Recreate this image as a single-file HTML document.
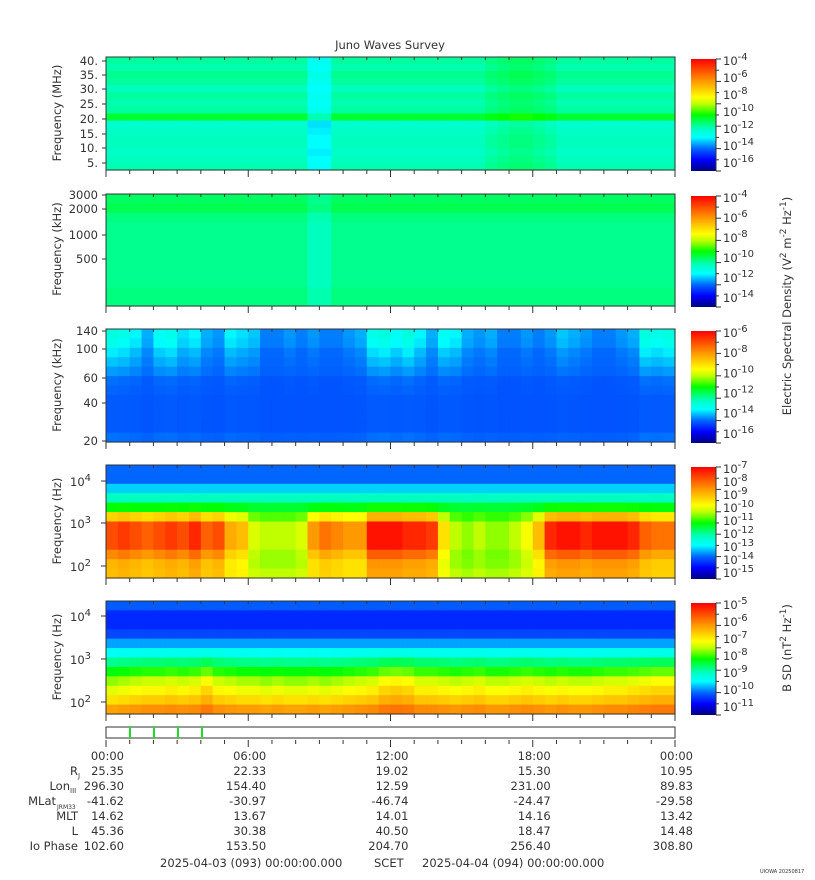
<!DOCTYPE html>
<html><head><meta charset="utf-8"><style>
html,body{margin:0;padding:0;background:#fff;width:815px;height:880px;overflow:hidden}
svg{display:block;font-family:"DejaVu Sans","Liberation Sans",sans-serif;fill:#333}
text{font-size:11.5px;fill:#333}
</style></head><body>
<svg id="c" width="815" height="880" viewBox="0 0 815 880">
<defs>
<linearGradient id="jet" x1="0" y1="1" x2="0" y2="0">
<stop offset="0" stop-color="#000080"/><stop offset="0.1" stop-color="#0000ff"/><stop offset="0.2" stop-color="#0066ff"/>
<stop offset="0.3" stop-color="#00ffff"/><stop offset="0.38" stop-color="#00ffbf"/><stop offset="0.5" stop-color="#00ff00"/>
<stop offset="0.6" stop-color="#c0ff00"/><stop offset="0.66" stop-color="#ffff00"/><stop offset="0.8" stop-color="#ff9900"/>
<stop offset="1" stop-color="#ff0000"/></linearGradient>
</defs>
<text x="390" y="49" text-anchor="middle">Juno Waves Survey</text>
<g id="cells"></g>
<g id="axes"></g>
</svg>
<script>
// ---- data ----
const hourLabels = ["00:00","06:00","12:00","18:00","00:00"];
const rjValues = ["25.35","22.33","19.02","15.30","10.95"];
const lonValues = ["296.30","154.40","12.59","231.00","89.83"];
const mlatValues = ["-41.62","-30.97","-46.74","-24.47","-29.58"];
const mltValues = ["14.62","13.67","14.01","14.16","13.42"];
const lValues = ["45.36","30.38","40.50","18.47","14.48"];
const ioValues = ["102.60","153.50","204.70","256.40","308.80"];
// per-panel row intensity (top to bottom, normalized colour-scale 0..1)
const p1Rows = [0.4,0.39,0.41,0.4,0.38,0.4,0.39,0.4,0.47,0.36,0.37,0.38,0.38,0.37,0.38,0.39];
const p1Cols = [0,0,0,0,0,0,0,0,0,0,0,0,0,0,0,0,0,-0.08,-0.08,0,0,0,0,0,0,0,0,0,0,0,0,0,0.02,0.03,0.04,0.04,0.03,0.02,0,0,0,0,0,0,0,0,0,0];
const p2Rows = [0.44,0.45,0.42,0.41,0.41,0.41,0.41,0.41,0.41,0.41,0.42,0.42];
const p2Cols = [0,0,0,0,0,0,0,0,0,0,0,0,0,0,0,0,0,-0.03,-0.03,0,0,0,0,0,0,0,0,0,0,0,0,0,0,0,0,0,0,0,0,0,0,0,0,0,0,0,0,0];
const p3Rows = [0.2,0.2,0.19,0.19,0.19,0.18,0.18,0.18,0.18,0.18,0.18,0.19];
const p3Weight = [0.16,0.14,0.11,0.08,0.05,0.03,0.02,0.01,0.01,0.01,0.01,0.02];
const p3Cols = [0.9,0.8,0.6,0.3,0.7,0.8,0.5,0.6,0.3,0.2,0.6,0.5,0.4,0.1,0.1,0.2,0.1,0.2,0.1,0.1,0.2,0.3,0.8,0.9,0.7,0.9,0.6,0.3,0.7,0.6,0.3,0.2,0.3,0.1,0.1,0.2,0.1,0.2,0.4,0.3,0.2,0.1,0.1,0.2,0.3,0.9,0.8,0.9];
const p4Rows = [0.2,0.2,0.27,0.38,0.46,0.48,0.5,0.5,0.5,0.5,0.52,0.55];
const p4Weight = [0,0,0,0,0.05,0.3,0.5,0.5,0.5,0.4,0.3,0.25];
const p4Cols = [0.8,0.85,0.8,0.75,0.8,0.85,0.8,0.9,0.75,0.8,0.55,0.5,0.25,0.2,0.2,0.2,0.25,0.6,0.7,0.65,0.6,0.6,0.95,0.95,0.95,0.9,0.9,0.85,0.4,0.2,0.15,0.2,0.15,0.15,0.2,0.3,0.5,0.9,0.95,0.95,0.9,0.95,0.95,0.95,0.9,0.75,0.7,0.7];
const p5Rows = [0.19,0.14,0.14,0.17,0.24,0.31,0.4,0.48,0.55,0.61,0.68,0.77];
const p5Weight = [0,0,0,0,0,0.02,0.05,0.08,0.12,0.12,0.1,0.08];
const p5Cols = [0.2,0.3,0.4,0.5,0.5,0.6,0.5,0.6,0.9,0.5,0.4,0.3,0.3,0.2,0.3,0.2,0.2,0.3,0.2,0.3,0.4,0.5,0.6,0.9,1,0.9,0.6,0.6,0.5,0.4,0.5,0.6,0.4,0.4,0.5,0.6,0.5,0.4,0.5,0.4,0.4,0.5,0.6,0.6,0.7,0.8,0.9,0.9];
const cb1 = ["-4","-6","-8","-10","-12","-14","-16"];
const cb2 = ["-4","-6","-8","-10","-12","-14"];
const cb3 = ["-6","-8","-10","-12","-14","-16"];
const cb4 = ["-7","-8","-9","-10","-11","-12","-13","-14","-15"];
const cb5 = ["-5","-6","-7","-8","-9","-10","-11"];
const y1Labels = ["40.","35.","30.","25.","20.","15.","10.","5."];
const y2Labels = ["3000","2000","1000","500"];
const y3Labels = ["140","100","60","40","20"];
const yExpLabels = ["4","3","2"];

const NS="http://www.w3.org/2000/svg";
const X0=106,X1=675,W=X1-X0,CB0=691,CBW=25;
const panels=[{y:57,h:113},{y:194,h:112},{y:329,h:113},{y:465,h:113},{y:601,h:113}];
const stops=[[0,0,0,128],[0.1,0,0,255],[0.2,0,102,255],[0.3,0,255,255],[0.38,0,255,191],[0.5,0,255,0],[0.6,192,255,0],[0.66,255,255,0],[0.8,255,153,0],[1,255,0,0]];
function cmap(t){t=Math.max(0,Math.min(1,t));for(let i=1;i<stops.length;i++){if(t<=stops[i][0]){const a=stops[i-1],b=stops[i],f=(t-a[0])/(b[0]-a[0]);return `rgb(${Math.round(a[1]+f*(b[1]-a[1]))},${Math.round(a[2]+f*(b[2]-a[2]))},${Math.round(a[3]+f*(b[3]-a[3]))})`;}}return "rgb(255,0,0)";}
function xScale(i,n){return X0+i*W/n;}
function el(tag,attrs,parent){const e=document.createElementNS(NS,tag);for(const k in attrs)e.setAttribute(k,attrs[k]);parent.appendChild(e);return e;}
const cells=document.getElementById('cells'),axes=document.getElementById('axes');
function heat(pi,rows,cols,weight){
  const p=panels[pi],g=el('g',{},cells);
  
  
  const n=cols.length,rh=p.h/rows.length;
  rows.forEach((rv,r)=>{cols.forEach((cv,c)=>{
    const v=weight?rv+cv*weight[r]:rv+cv;
    const x=xScale(c,n);
    const rc=el('rect',{x:x.toFixed(2),y:(p.y+r*rh).toFixed(2),width:(W/n+0.6).toFixed(2),height:(rh+0.6).toFixed(2),fill:cmap(v)},g);
    
    
  });});
}
heat(0,p1Rows,p1Cols,null);
heat(1,p2Rows,p2Cols,null);
heat(2,p3Rows,p3Cols,p3Weight);
heat(3,p4Rows,p4Cols,p4Weight);
heat(4,p5Rows,p5Cols,p5Weight);

function txt(x,y,s,anchor,parent,name,size){const t=el('text',{x:x,y:y,'text-anchor':anchor||'start'},parent||axes);if(size)t.setAttribute('style','font-size:'+size+'px');t.textContent=s;return t;}
function expLabel(x,y,e,name){const t=el('text',{x:x,y:y},axes);t.textContent='10';const s=el('tspan',{dy:-5,style:'font-size:10px'},t);s.textContent=e;return t;}

panels.forEach((p,i)=>{
  const f=el('rect',{x:X0,y:p.y,width:W,height:p.h,fill:'none',stroke:'#333','stroke-width':1},axes);
  
  
  for(let h=0;h<=24;h++){const x=xScale(h,24),L=h%6==0?7:4;
    el('line',{x1:x,x2:x,y1:p.y+p.h,y2:p.y+p.h+L,stroke:'#333'},axes);
    el('line',{x1:x,x2:x,y1:p.y,y2:p.y+3,stroke:'#333'},axes);}
  const cb=el('rect',{x:CB0,y:p.y+2,width:CBW,height:p.h-1,fill:'url(#jet)'},axes);
  
  
  for(let k=0;k<=10;k++){const y=p.y+2+k*(p.h-1)/10;el('line',{x1:CB0+CBW,x2:CB0+CBW+(k%2?3:5),y1:y,y2:y,stroke:'#333'},axes);}
  el('line',{x1:CB0+CBW,x2:CB0+CBW,y1:p.y+2,y2:p.y+p.h+1,stroke:'#333'},axes);
});
function cbLabels(arr,pi){const p=panels[pi];arr.forEach((e,k)=>{const y=p.y+8+k*(p.h-4)/(arr.length-0.6);expLabel(723,y,e,'colorbar-tick-label');});}
cbLabels(cb1,0);cbLabels(cb2,1);cbLabels(cb3,2);cbLabels(cb4,3);cbLabels(cb5,4);
const y1Pos=[61,75,89,104,119,134,148,163];
y1Labels.forEach((s,i)=>{txt(98,y1Pos[i]+4,s,'end',axes,'y-tick-label');el('line',{x1:X0-4,x2:X0,y1:y1Pos[i],y2:y1Pos[i],stroke:'#333'},axes);});
const y2Pos=[195,209,235,259];
y2Labels.forEach((s,i)=>{txt(98,y2Pos[i]+4,s,'end',axes,'y-tick-label');el('line',{x1:X0-4,x2:X0,y1:y2Pos[i],y2:y2Pos[i],stroke:'#333'},axes);});
const y3Pos=[331,349,378,403,441];
y3Labels.forEach((s,i)=>{txt(98,y3Pos[i]+4,s,'end',axes,'y-tick-label');el('line',{x1:X0-4,x2:X0,y1:y3Pos[i],y2:y3Pos[i],stroke:'#333'},axes);});
const y4Pos=[481,523,566],y5Pos=[616,659,702];
yExpLabels.forEach((e,i)=>{expLabel(70,y4Pos[i]+5,e,'y-tick-label');expLabel(70,y5Pos[i]+5,e,'y-tick-label');
 el('line',{x1:X0-5,x2:X0,y1:y4Pos[i],y2:y4Pos[i],stroke:'#333'},axes);el('line',{x1:X0-5,x2:X0,y1:y5Pos[i],y2:y5Pos[i],stroke:'#333'},axes);});
const yTitles=[["Frequency (MHz)",113],["Frequency (kHz)",249],["Frequency (kHz)",385],["Frequency (Hz)",521],["Frequency (Hz)",657]];
yTitles.forEach(([s,y])=>{const t=txt(0,0,s,'middle',axes,'y-axis-title');t.setAttribute('transform',`translate(61,${y}) rotate(-90)`);});
const t1=el('text',{transform:'translate(791,306) rotate(-90)','text-anchor':'middle'},axes);


t1.innerHTML='Electric Spectral Density (V<tspan dy="-5" style="font-size:9px">2</tspan><tspan dy="5"> m</tspan><tspan dy="-5" style="font-size:9px">-2</tspan><tspan dy="5"> Hz</tspan><tspan dy="-5" style="font-size:9px">-1</tspan><tspan dy="5">)</tspan>';
const t2=el('text',{transform:'translate(791,648) rotate(-90)','text-anchor':'middle'},axes);


t2.innerHTML='B SD (nT<tspan dy="-5" style="font-size:9px">2</tspan><tspan dy="5"> Hz</tspan><tspan dy="-5" style="font-size:9px">-1</tspan><tspan dy="5">)</tspan>';
const strip=el('rect',{x:X0,y:727,width:W,height:11,fill:'none',stroke:'#333'},axes);


[130,154,178,202].forEach(x=>el('line',{x1:x,x2:x,y1:727,y2:738,stroke:'#22dd22','stroke-width':2},axes));
for(let h=0;h<=24;h++){const x=xScale(h,24);el('line',{x1:x,x2:x,y1:740,y2:h%6==0?747:744,stroke:'#333'},axes);}
const rowY=[760,775,790,805,820,835,850];
const rowsData=[hourLabels,rjValues,lonValues,mlatValues,mltValues,lValues,ioValues];
rowsData.forEach((arr,r)=>arr.forEach((s,k)=>{const x=xScale(k*6,24)+18;txt(x,rowY[r],s,'end',axes,r==0?'x-tick-label':'ephemeris-value');}));
txt(78,rowY[1],'R','end',axes,'row-label');txt(78,rowY[1]+3,'J','start',axes,'row-label',7);
txt(70,rowY[2],'Lon','end',axes,'row-label');txt(70,rowY[2]+3,'III','start',axes,'row-label',7);
txt(56,rowY[3],'MLat','end',axes,'row-label');txt(57,rowY[3]+4,'JRM33','start',axes,'row-label',6);
txt(78,rowY[4],'MLT','end',axes,'row-label');
txt(78,rowY[5],'L','end',axes,'row-label');
txt(78,rowY[6],'Io Phase','end',axes,'row-label');
txt(160,867,'2025-04-03 (093) 00:00:00.000','start',axes,'start-time');
txt(374,867,'SCET','start',axes,'scet-label');
txt(422,867,'2025-04-04 (094) 00:00:00.000','start',axes,'end-time');
txt(760,873,'UIOWA 20250817','start',axes,'version-stamp',5);
</script>
</body></html>
